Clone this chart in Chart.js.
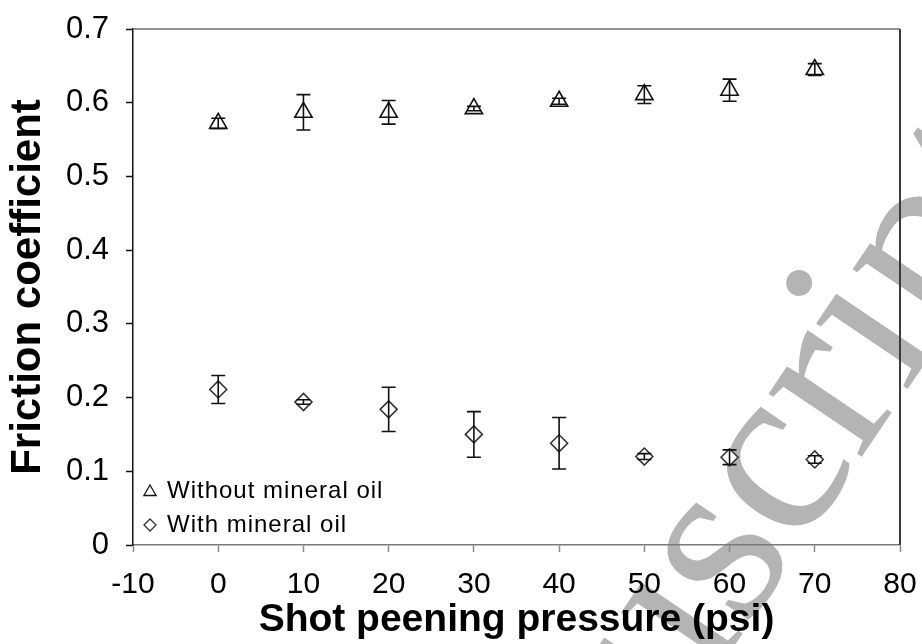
<!DOCTYPE html>
<html>
<head>
<meta charset="utf-8">
<script src="https://cdn.jsdelivr.net/npm/chart.js@4.4.1/dist/chart.umd.min.js"></script>
<style>
  html, body { margin: 0; padding: 0; background: #fff; }
  #c { display: block; }
</style>
</head>
<body>
<canvas id="c" width="922" height="644"></canvas>
<script>
// Friction coefficient vs. shot peening pressure, mean ± standard deviation
const pressures = [0, 10, 20, 30, 40, 50, 60, 70];
const dryMean = [0.572, 0.587, 0.587, 0.592, 0.602, 0.611, 0.617, 0.645];
const dryErr  = [0.007, 0.024, 0.016, 0.003, 0.004, 0.012, 0.015, 0.008];
const oilMean = [0.211, 0.194, 0.184, 0.150, 0.138, 0.120, 0.119, 0.116];
const oilErr  = [0.019, 0.003, 0.030, 0.031, 0.035, 0.004, 0.010, 0.005];
const seriesNames = ['Without mineral oil', 'With mineral oil'];
const xTickValues = [-10, 0, 10, 20, 30, 40, 50, 60, 70, 80];
const yTickValues = [0, 0.1, 0.2, 0.3, 0.4, 0.5, 0.6, 0.7];
const yTickLabels = ['0', '0.1', '0.2', '0.3', '0.4', '0.5', '0.6', '0.7'];
const xTitle = 'Shot peening pressure (psi)';
const yTitle = 'Friction coefficient';
const watermark = 'Accepted Manuscript';

const SANS = "'Liberation Sans', Arial, sans-serif";
const errorSets = [dryErr, oilErr];

const toPoints = (means) => pressures.map((p, i) => ({ x: p, y: means[i] }));

// white page plus the faint diagonal watermark behind everything
const backgroundPlugin = {
  id: 'background',
  beforeDraw(chart) {
    const ctx = chart.ctx;
    ctx.save();
    ctx.fillStyle = '#ffffff';
    ctx.fillRect(0, 0, chart.width, chart.height);
    ctx.font = "245px 'Liberation Serif', 'Times New Roman', serif";
    ctx.fillStyle = '#b4b4b4';
    ctx.textBaseline = 'alphabetic';
    const lead = ctx.measureText('Accepted Manu').width;
    ctx.translate(745, 630);
    ctx.rotate(-56 * Math.PI / 180);
    ctx.fillText(watermark, -lead, 0);
    ctx.restore();
  }
};

// top and right frame of the plot area
const framePlugin = {
  id: 'frame',
  afterDraw(chart) {
    const { left, right, top, bottom } = chart.chartArea;
    const ctx = chart.ctx;
    ctx.save();
    ctx.lineWidth = 1.5;
    ctx.strokeStyle = '#6e6e6e';
    ctx.beginPath();
    ctx.moveTo(left, top);
    ctx.lineTo(right, top);
    ctx.stroke();
    ctx.strokeStyle = '#3a3a3a';
    ctx.lineWidth = 2;
    ctx.beginPath();
    ctx.moveTo(right, top);
    ctx.lineTo(right, bottom);
    ctx.stroke();
    ctx.restore();
  }
};

// vertical error bars with caps
const errorBarPlugin = {
  id: 'errorBars',
  afterDatasetsDraw(chart) {
    const ctx = chart.ctx;
    const xs = chart.scales.x, ys = chart.scales.y;
    ctx.save();
    ctx.strokeStyle = '#111';
    ctx.lineWidth = 1.6;
    chart.data.datasets.forEach((ds, di) => {
      const errs = errorSets[di];
      ds.data.forEach((pt, i) => {
        const px = xs.getPixelForValue(pt.x);
        const yHi = ys.getPixelForValue(pt.y + errs[i]);
        const yLo = ys.getPixelForValue(pt.y - errs[i]);
        const cap = 7;
        ctx.beginPath();
        ctx.moveTo(px, yHi); ctx.lineTo(px, yLo);
        ctx.moveTo(px - cap, yHi); ctx.lineTo(px + cap, yHi);
        ctx.moveTo(px - cap, yLo); ctx.lineTo(px + cap, yLo);
        ctx.stroke();
      });
    });
    ctx.restore();
  }
};

// legend drawn inside the lower-left corner of the plot area
const innerLegendPlugin = {
  id: 'innerLegend',
  afterDraw(chart) {
    const ctx = chart.ctx;
    const { left, bottom } = chart.chartArea;
    const rows = [bottom - 54, bottom - 20];
    const radii = [7, 6];
    ctx.save();
    chart.data.datasets.forEach((ds, di) => {
      const y = rows[di];
      const opts = { pointStyle: ds.pointStyle, radius: radii[di], borderWidth: 1.3, rotation: 0 };
      ctx.fillStyle = '#fff';
      ctx.strokeStyle = ds.borderColor;
      ctx.lineWidth = 1.3;
      Chart.helpers.drawPoint(ctx, opts, left + 17, y + (di === 0 ? 1 : 0));
      ctx.fillStyle = '#000';
      ctx.font = '24px ' + SANS;
      ctx.textBaseline = 'middle';
      ctx.textAlign = 'left';
      if ('letterSpacing' in ctx) ctx.letterSpacing = '1px';
      ctx.fillText(ds.label, left + 34, y);
      if ('letterSpacing' in ctx) ctx.letterSpacing = '0px';
    });
    ctx.restore();
  }
};

new Chart(document.getElementById('c'), {
  type: 'scatter',
  data: {
    datasets: [
      {
        label: seriesNames[0],
        data: toPoints(dryMean),
        pointStyle: 'triangle',
        pointRadius: 10,
        pointHoverRadius: 10,
        borderWidth: 1.6,
        borderColor: '#111',
        backgroundColor: '#ffffff'
      },
      {
        label: seriesNames[1],
        data: toPoints(oilMean),
        pointStyle: 'rectRot',
        pointRadius: 8.5,
        pointHoverRadius: 8.5,
        borderWidth: 1.6,
        borderColor: '#333',
        backgroundColor: '#ffffff'
      }
    ]
  },
  options: {
    responsive: false,
    animation: false,
    devicePixelRatio: 1,
    layout: { autoPadding: false, padding: { top: 29, right: 22, left: 0, bottom: 0 } },
    plugins: {
      legend: { display: false },
      tooltip: { enabled: false }
    },
    scales: {
      x: {
        type: 'linear',
        min: -10,
        max: 80,
        afterBuildTicks: (s) => { s.ticks = xTickValues.map(v => ({ value: v })); },
        afterFit: (s) => { s.height = 99; s.paddingLeft = 0; s.paddingRight = 0; },
        ticks: {
          color: '#000',
          font: { family: SANS, size: 30 },
          padding: 15,
          maxRotation: 0,
          autoSkip: false
        },
        grid: { drawOnChartArea: false, drawTicks: true, tickLength: 7, tickColor: '#8a8a8a', tickWidth: 1.5 },
        border: { display: true, color: '#7a7a7a', width: 1.5 },
        title: {
          display: true,
          text: xTitle,
          color: '#000',
          font: { family: SANS, size: 39, weight: 'bold', lineHeight: 1.2 },
          padding: { top: 0, bottom: 0 }
        }
      },
      y: {
        type: 'linear',
        min: 0,
        max: 0.7,
        afterBuildTicks: (s) => { s.ticks = yTickValues.map(v => ({ value: v })); },
        afterFit: (s) => { s.width = 133; s.paddingTop = 0; s.paddingBottom = 0; },
        ticks: {
          color: '#000',
          font: { family: SANS, size: 31 },
          padding: 17,
          autoSkip: false,
          callback: (v, i) => yTickLabels[i]
        },
        grid: { drawOnChartArea: false, drawTicks: true, tickLength: 7, tickColor: '#111', tickWidth: 1.5 },
        border: { display: true, color: '#111', width: 1.5 },
        title: {
          display: true,
          text: yTitle,
          color: '#000',
          font: { family: SANS, size: 42, weight: 'bold', lineHeight: 1.2 },
          padding: { top: 3, bottom: 0 }
        }
      }
    }
  },
  plugins: [backgroundPlugin, errorBarPlugin, framePlugin, innerLegendPlugin]
});
</script>
</body>
</html>
